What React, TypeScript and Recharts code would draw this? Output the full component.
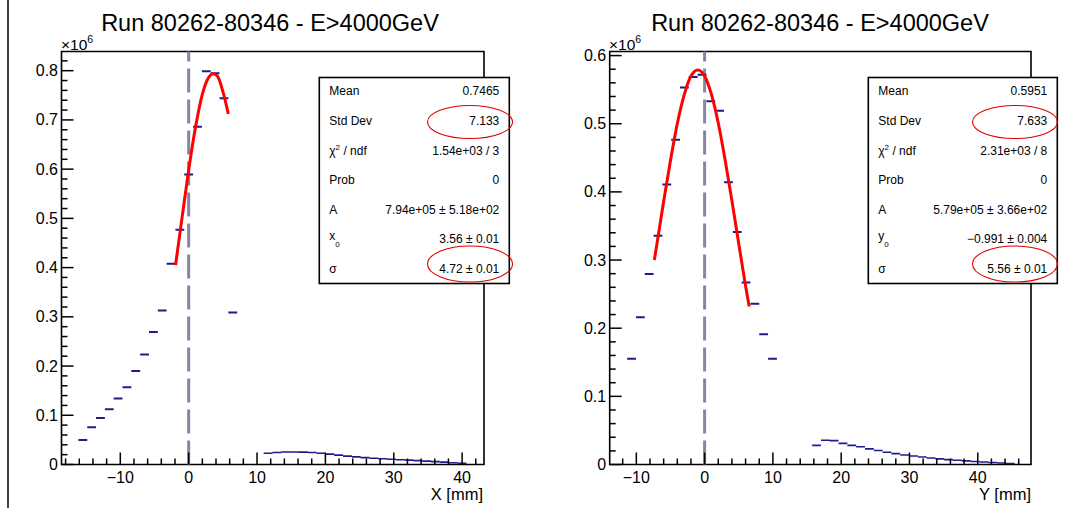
import React from 'react';
import { ComposedChart, Line, XAxis, YAxis, ReferenceLine, ReferenceArea } from 'recharts';

const FONT = '"Liberation Sans", Arial, Helvetica, sans-serif';

// X profile, entries in units of 1e6
const xBinCenters = [-15.48, -14.19, -12.9, -11.61, -10.32, -9.03, -7.74, -6.45, -5.16, -3.87, -2.58, -1.29, 0, 1.29, 2.58, 3.87, 5.16, 6.45];
const xBinValues = [0.05, 0.0756, 0.0945, 0.112, 0.134, 0.157, 0.19, 0.2235, 0.269, 0.313, 0.408, 0.477, 0.589, 0.686, 0.799, 0.795, 0.744, 0.309];
const xTailCenters = [11.61, 12.9, 14.19, 15.48, 16.77, 18.06, 19.35, 20.64, 21.93, 23.22, 24.51, 25.8, 27.09, 28.38, 29.67, 30.96, 32.25, 33.54, 34.83, 36.12, 37.41, 38.7, 39.99];
const xTailValues = [0.023, 0.0245, 0.0253, 0.0255, 0.0252, 0.0243, 0.0228, 0.021, 0.019, 0.017, 0.0155, 0.014, 0.0128, 0.0117, 0.0107, 0.0098, 0.0088, 0.0078, 0.0068, 0.0058, 0.0048, 0.0037, 0.0025];
const xFitX = [-1.92, -1, 0, 1, 2, 3, 3.56, 4.2, 5, 5.8];
const xFitY = [0.405, 0.498, 0.598, 0.685, 0.752, 0.788, 0.794, 0.789, 0.758, 0.712];

// Y profile
const yBinCenters = [-10.7, -9.41, -8.12, -6.83, -5.54, -4.25, -2.96, -1.67, -0.38, 0.91, 2.2, 3.49, 4.78, 6.07, 7.36, 8.65, 9.94];
const yBinValues = [0.155, 0.216, 0.2795, 0.3356, 0.4107, 0.4766, 0.553, 0.5686, 0.572, 0.533, 0.519, 0.414, 0.341, 0.267, 0.236, 0.191, 0.155];
const yTailCenters = [16.39, 17.68, 18.97, 20.26, 21.55, 22.84, 24.13, 25.42, 26.71, 28.0, 29.29, 30.58, 31.87, 33.16, 34.45, 35.74, 37.03, 38.32, 39.61, 40.9, 42.19, 43.48, 44.77];
const yTailValues = [0.028, 0.0355, 0.035, 0.031, 0.028, 0.026, 0.023, 0.0205, 0.018, 0.016, 0.014, 0.0125, 0.011, 0.0095, 0.0083, 0.0072, 0.0062, 0.0053, 0.0045, 0.0037, 0.003, 0.0022, 0.0015];
const yFitX = [-7.36, -6, -5, -4, -3, -2, -1, 0, 1, 2, 3, 4, 5, 6, 6.53];
const yFitY = [0.3, 0.386, 0.446, 0.5, 0.542, 0.57, 0.579, 0.57, 0.543, 0.501, 0.447, 0.387, 0.324, 0.262, 0.232];

const BIN_WIDTH = 1.29;

const xAxisTicksL = [-18, -16, -14, -12, -10, -8, -6, -4, -2, 0, 2, 4, 6, 8, 10, 12, 14, 16, 18, 20, 22, 24, 26, 28, 30, 32, 34, 36, 38, 40, 42];
const yAxisTicksL = [0, 0.02, 0.04, 0.06, 0.08, 0.1, 0.12, 0.14, 0.16, 0.18, 0.2, 0.22, 0.24, 0.26, 0.28, 0.3, 0.32, 0.34, 0.36, 0.38, 0.4, 0.42, 0.44, 0.46, 0.48, 0.5, 0.52, 0.54, 0.56, 0.58, 0.6, 0.62, 0.64, 0.66, 0.68, 0.7, 0.72, 0.74, 0.76, 0.78, 0.8, 0.82];
const xAxisTicksR = [-12, -10, -8, -6, -4, -2, 0, 2, 4, 6, 8, 10, 12, 14, 16, 18, 20, 22, 24, 26, 28, 30, 32, 34, 36, 38, 40, 42, 44, 46];
const yAxisTicksR = [0, 0.02, 0.04, 0.06, 0.08, 0.1, 0.12, 0.14, 0.16, 0.18, 0.2, 0.22, 0.24, 0.26, 0.28, 0.3, 0.32, 0.34, 0.36, 0.38, 0.4, 0.42, 0.44, 0.46, 0.48, 0.5, 0.52, 0.54, 0.56, 0.58, 0.6];

const TITLE = 'Run 80262-80346 - E>4000GeV';

const statsX = [
  ['Mean', '0.7465'],
  ['Std Dev', '7.133'],
  ['chi', '1.54e+03 / 3'],
  ['Prob', '0'],
  ['A', '7.94e+05 \u00b1 5.18e+02'],
  ['x0', '3.56 \u00b1 0.01'],
  ['\u03c3', '4.72 \u00b1 0.01'],
];
const statsY = [
  ['Mean', '0.5951'],
  ['Std Dev', '7.633'],
  ['chi', '2.31e+03 / 8'],
  ['Prob', '0'],
  ['A', '5.79e+05 \u00b1 3.66e+02'],
  ['y0', '\u22120.991 \u00b1 0.004'],
  ['\u03c3', '5.56 \u00b1 0.01'],
];

const toSegments = (centers: number[], values: number[]) => {
  const out: { x: number; y: number | null }[] = [];
  centers.forEach((c, i) => {
    out.push({ x: c - BIN_WIDTH / 2, y: values[i] });
    out.push({ x: c + BIN_WIDTH / 2, y: values[i] });
    out.push({ x: c + BIN_WIDTH / 2, y: null });
  });
  return out;
};

const toPoints = (xs: number[], ys: number[]) => xs.map((x, i) => ({ x, y: ys[i] }));

const fmtX = (v: number) => (v < 0 ? '\u2212' + Math.abs(v) : String(v));
const fmtY = (v: number) => (v === 0 ? '0' : v.toFixed(1));

const XTick = (props: any) => {
  const { x, y, payload } = props;
  const v = payload.value;
  const major = Math.abs(Math.round(v)) % 10 === 0;
  return (
    <g>
      <line x1={x} x2={x} y1={y} y2={y - (major ? 12 : 6)} stroke="#000" strokeWidth={1.5} />
      {major && (
        <text x={x} y={y + 18.5} textAnchor="middle" fontSize={16} fontFamily={FONT} fill="#000">
          {fmtX(v)}
        </text>
      )}
    </g>
  );
};

const YTick = (props: any) => {
  const { x, y, payload } = props;
  const v = payload.value;
  const major = Math.round(v * 100) % 10 === 0;
  return (
    <g>
      <line x1={x} x2={x + (major ? 12 : 6)} y1={y} y2={y} stroke="#000" strokeWidth={1.5} />
      {major && (
        <text x={x - 3.5} y={y + 5.5} textAnchor="end" fontSize={16} fontFamily={FONT} fill="#000">
          {fmtY(v)}
        </text>
      )}
    </g>
  );
};

interface PanelProps {
  left: number;
  width: number;
  marginLeft: number;
  marginRight: number;
  xDomain: [number, number];
  yMax: number;
  xTicks: number[];
  yTicks: number[];
  bins: { x: number; y: number | null }[];
  tail: { x: number; y: number | null }[];
  fit: { x: number; y: number }[];
}

const Panel = (p: PanelProps) => (
  <div style={{ position: 'absolute', left: p.left, top: 0 }}>
    <ComposedChart
      width={p.width}
      height={508}
      margin={{ top: 51.5, right: p.marginRight, bottom: 13.5, left: p.marginLeft }}
    >
      <XAxis
        type="number"
        dataKey="x"
        domain={p.xDomain}
        allowDataOverflow
        ticks={p.xTicks}
        interval={0}
        height={30}
        tickSize={0}
        tickMargin={0}
        axisLine={false}
        tickLine={false}
        tick={<XTick />}
      />
      <YAxis
        type="number"
        domain={[0, p.yMax]}
        allowDataOverflow
        ticks={p.yTicks}
        interval={0}
        width={50}
        tickSize={0}
        tickMargin={0}
        axisLine={false}
        tickLine={false}
        tick={<YTick />}
      />
      <ReferenceLine x={0} stroke="#8585a5" strokeWidth={3} strokeDasharray="24 7" />
      <Line data={p.bins} dataKey="y" stroke="#1c1c8c" strokeWidth={2} dot={false} connectNulls={false} isAnimationActive={false} />
      <Line data={p.tail} dataKey="y" stroke="#1c1c8c" strokeWidth={1.6} dot={false} connectNulls={false} isAnimationActive={false} />
      <Line data={p.fit} dataKey="y" type="monotone" stroke="#ff0000" strokeWidth={3} dot={false} isAnimationActive={false} />
      <ReferenceArea
        x1={p.xDomain[0]}
        x2={p.xDomain[1]}
        y1={0}
        y2={p.yMax}
        fill="none"
        stroke="#000"
        strokeWidth={1.6}
        ifOverflow="visible"
      />
    </ComposedChart>
  </div>
);

const StatsBox = ({ x, w, rows, ellipseCx }: { x: number; w: number; rows: string[][]; ellipseCx: number }) => {
  const rowY = [91, 120.7, 150.2, 180, 209.8, 238.8, 268.3];
  return (
    <g fontFamily={FONT} fontSize={12} fill="#000">
      <rect x={x} y={77.5} width={w} height={206} fill="#fff" stroke="#000" strokeWidth={1.6} />
      {rows.map(([label, value], i) => {
        const by = rowY[i] + 4.3;
        let lab: React.ReactNode = label;
        if (label === 'chi') {
          lab = (
            <>
              <tspan>{'\u03c7'}</tspan>
              <tspan dy={-5} fontSize={8}>2</tspan>
              <tspan dy={5}>{' / ndf'}</tspan>
            </>
          );
        } else if (label === 'x0' || label === 'y0') {
          lab = (
            <>
              <tspan dy={-3}>{label[0]}</tspan>
              <tspan dy={7} fontSize={8}>0</tspan>
            </>
          );
        }
        return (
          <g key={label}>
            <text x={x + 10} y={by}>{lab}</text>
            <text x={x + w - 10} y={by} textAnchor="end">{value}</text>
          </g>
        );
      })}
      <ellipse cx={ellipseCx} cy={122} rx={42.5} ry={16.5} fill="none" stroke="#e00000" strokeWidth={1.1} />
      <ellipse cx={ellipseCx} cy={264} rx={42.5} ry={18} fill="none" stroke="#e00000" strokeWidth={1.1} />
    </g>
  );
};

const Overlay = () => (
  <svg width={1068} height={508} style={{ position: 'absolute', left: 0, top: 0, pointerEvents: 'none' }}>
    <line x1={8} x2={8} y1={0} y2={508} stroke="#000" strokeWidth={1.5} />
    <g fontFamily={FONT} fill="#000">
      <text x={270} y={31} textAnchor="middle" fontSize={23.5}>{TITLE}</text>
      <text x={820} y={31} textAnchor="middle" fontSize={23.5}>{TITLE}</text>
      <text x={61} y={50} fontSize={15.5}>
        {'\u00d710'}
        <tspan dy={-7.5} fontSize={10.5}>6</tspan>
      </text>
      <text x={609} y={50} fontSize={15.5}>
        {'\u00d710'}
        <tspan dy={-7.5} fontSize={10.5}>6</tspan>
      </text>
      <text x={483} y={500} textAnchor="end" fontSize={16.5}>X [mm]</text>
      <text x={1031} y={500} textAnchor="end" fontSize={16.5}>Y [mm]</text>
    </g>
    <StatsBox x={319.3} w={190} rows={statsX} ellipseCx={470} />
    <StatsBox x={868.3} w={189} rows={statsY} ellipseCx={1015} />
  </svg>
);

export default function App() {
  return (
    <div style={{ position: 'absolute', left: 0, top: 0, width: 1068, height: 508, background: '#fff', overflow: 'hidden' }}>
      <Panel
        left={0}
        width={540}
        marginLeft={11.5}
        marginRight={56}
        xDomain={[-18.6, 43.2]}
        yMax={0.839}
        xTicks={xAxisTicksL}
        yTicks={yAxisTicksL}
        bins={toSegments(xBinCenters, xBinValues)}
        tail={toSegments(xTailCenters, xTailValues)}
        fit={toPoints(xFitX, xFitY)}
      />
      <Panel
        left={540}
        width={528}
        marginLeft={19.7}
        marginRight={37}
        xDomain={[-13.9, 47.8]}
        yMax={0.606}
        xTicks={xAxisTicksR}
        yTicks={yAxisTicksR}
        bins={toSegments(yBinCenters, yBinValues)}
        tail={toSegments(yTailCenters, yTailValues)}
        fit={toPoints(yFitX, yFitY)}
      />
      <Overlay />
    </div>
  );
}
